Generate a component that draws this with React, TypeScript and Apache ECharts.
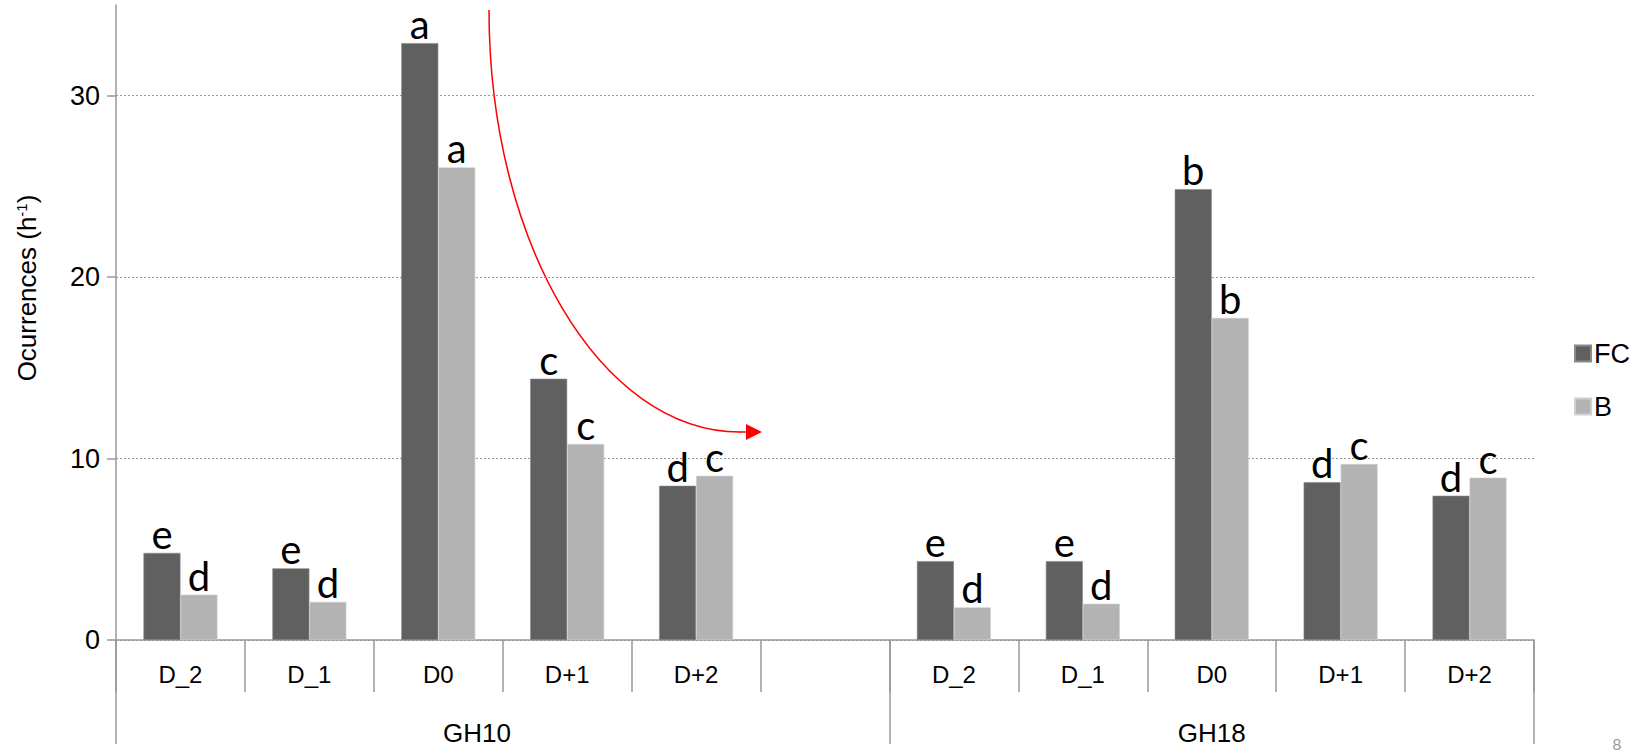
import React, { useEffect, useRef } from "react";
import * as echarts from "echarts";

const categories = ["D_2", "D_1", "D0", "D+1", "D+2", "", "D_2", "D_1", "D0", "D+1", "D+2"];
const fcValues: (number | null)[] = [4.8, 3.95, 32.9, 14.4, 8.5, null, 4.35, 4.35, 24.85, 8.7, 7.95];
const bValues: (number | null)[] = [2.5, 2.1, 26.05, 10.8, 9.05, null, 1.8, 2.0, 17.75, 9.7, 8.95];
const fcLetters = ["e", "e", "a", "c", "d", "", "e", "e", "b", "d", "d"];
const bLetters = ["d", "d", "a", "c", "c", "", "d", "d", "b", "c", "c"];
const groupLabels = ["GH10", "GH18"];
const groupLabelPositions = [2.8, 8.5];
const groupBoundaries = [0, 6, 11];
const yTicks = [0, 10, 20, 30];

const FONT = "Arial, 'Liberation Sans', sans-serif";
const LETTER_FONT = "Lato, 'Open Sans', sans-serif";

export default function App() {
  const ref = useRef<HTMLDivElement>(null);
  useEffect(() => {
    if (!ref.current) return;
    const chart = echarts.init(ref.current, null, { renderer: "svg" });
    const letterLabel = (letters: string[]) => ({
      show: true,
      position: "top" as const,
      distance: -1,
      fontFamily: LETTER_FONT,
      fontSize: 40,
      color: "#000",
      formatter: (p: any) => letters[p.dataIndex] || "",
    });
    chart.setOption({
      animation: false,
      backgroundColor: "#fff",
      grid: { left: 116, right: 110, top: 5, bottom: 113, containLabel: false },
      legend: {
        orient: "vertical",
        left: 1569,
        top: 335,
        itemWidth: 16,
        itemHeight: 16,
        itemGap: 26,
        icon: "rect",
        textStyle: { fontFamily: FONT, fontSize: 27, color: "#000", padding: [0, 0, 0, -2] },
        data: ["FC", "B"],
      },
      xAxis: [
        {
          type: "category",
          data: categories,
          boundaryGap: true,
          axisLine: { show: true, lineStyle: { color: "#999", width: 1.5 } },
          axisTick: { show: true, alignWithLabel: false, interval: 0, length: 52, lineStyle: { color: "#999", width: 1.5 } },
          axisLabel: { interval: 0, margin: 22, fontFamily: FONT, fontSize: 24, color: "#000" },
          splitLine: { show: false },
        },
        {
          type: "value",
          min: 0,
          max: 11,
          position: "bottom",
          axisLine: { show: false },
          axisTick: { show: true, customValues: groupBoundaries, length: 104, lineStyle: { color: "#999", width: 1.5 } },
          axisLabel: {
            show: true,
            customValues: groupLabelPositions,
            margin: 80,
            fontFamily: FONT,
            fontSize: 26,
            color: "#000",
            formatter: (v: number) => {
              const i = groupLabelPositions.indexOf(v);
              return i >= 0 ? groupLabels[i] : "";
            },
          },
          splitLine: { show: false },
        },
      ],
      yAxis: {
        type: "value",
        min: 0,
        max: 35,
        interval: 10,
        axisLine: { show: true, lineStyle: { color: "#999", width: 1.5 } },
        axisTick: { show: true, customValues: yTicks, length: 9, lineStyle: { color: "#999", width: 1.5 } },
        axisLabel: { customValues: yTicks, margin: 16, fontFamily: FONT, fontSize: 27, color: "#000" },
        splitLine: { show: true, lineStyle: { color: "#999", type: [2, 2], width: 1 } },
      },
      series: [
        {
          name: "FC",
          type: "bar",
          data: fcValues,
          barGap: "0%",
          barCategoryGap: "42.6%",
          itemStyle: { color: "#606060", borderColor: "#8a8a8a", borderWidth: 0.6 },
          label: letterLabel(fcLetters),
        },
        {
          name: "B",
          type: "bar",
          data: bValues,
          itemStyle: { color: "#b3b3b3", borderColor: "#d0d0d0", borderWidth: 0.6 },
          label: letterLabel(bLetters),
        },
      ],
      graphic: [
        {
          type: "text",
          x: 27,
          y: 288,
          rotation: Math.PI / 2,
          style: {
            text: "{a|Ocurrences (h}{s|-1}{a|)}",
            align: "center",
            verticalAlign: "middle",
            rich: {
              a: { fontFamily: FONT, fontSize: 26, color: "#000" },
              s: { fontFamily: FONT, fontSize: 15, color: "#000", verticalAlign: "top", padding: [0, 0, 12, 0] },
            },
          },
        },
        {
          type: "bezierCurve",
          shape: { x1: 489, y1: 10, cpx1: 489, cpy1: 243, cpx2: 601, cpy2: 432, x2: 740, y2: 432 },
          style: { stroke: "#ff0000", lineWidth: 1.5, fill: null },
        },
        {
          type: "line",
          shape: { x1: 739, y1: 432, x2: 748, y2: 432 },
          style: { stroke: "#ff0000", lineWidth: 1.5 },
        },
        {
          type: "polygon",
          shape: { points: [[746, 424], [762, 432], [746, 440]] },
          style: { fill: "#ff0000" },
        },
        {
          type: "text",
          x: 1617,
          y: 743,
          style: { text: "8", align: "center", verticalAlign: "middle", fontFamily: LETTER_FONT, fontSize: 16, fill: "#999" },
        },
      ],
    });
    return () => chart.dispose();
  }, []);
  return <div ref={ref} style={{ position: "fixed", left: 0, top: 0, width: 1644, height: 753 }} />;
}
